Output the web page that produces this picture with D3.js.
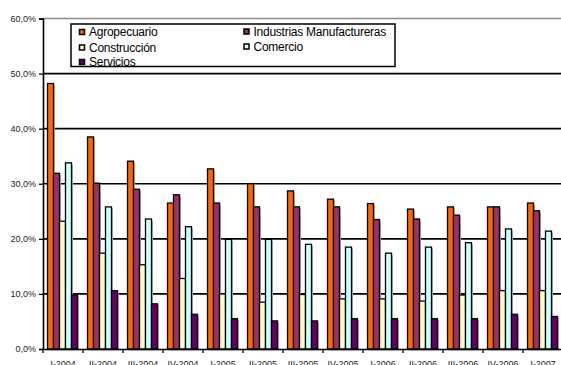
<!DOCTYPE html>
<html>
<head>
<meta charset="utf-8">
<script src="https://cdn.jsdelivr.net/npm/d3@7"></script>
<style>
  body { margin: 0; background: #fff; }
  text { font-family: "Liberation Sans", Arial, sans-serif; }
</style>
</head>
<body>
<svg class="viz"></svg>
<script>
var width = 561,
  height = 365;

var categories = ["I-2004", "II-2004", "III-2004", "IV-2004", "I-2005", "II-2005", "III-2005",
  "IV-2005", "I-2006", "II-2006", "III-2006", "IV-2006", "I-2007"];

var series_names = ["Agropecuario", "Industrias Manufactureras", "Construcción", "Comercio", "Servicios"];

var agropecuario = [48.2, 38.5, 34.1, 26.5, 32.7, 30.0, 28.7, 27.2, 26.4, 25.4, 25.8, 25.8, 26.5];
var industrias = [31.9, 30.1, 29.0, 28.0, 26.5, 25.8, 25.8, 25.8, 23.5, 23.6, 24.3, 25.8, 25.1];
var construccion = [23.2, 17.4, 15.3, 12.8, 10.0, 8.5, 9.9, 9.1, 9.1, 8.7, 9.8, 10.6, 10.6];
var comercio = [33.8, 25.8, 23.6, 22.2, 19.9, 19.9, 19.0, 18.5, 17.4, 18.5, 19.3, 21.8, 21.4];
var servicios = [9.8, 10.6, 8.2, 6.3, 5.5, 5.1, 5.1, 5.5, 5.5, 5.5, 5.5, 6.3, 5.9];

var y_ticks = [0, 10, 20, 30, 40, 50, 60];

var colors = ["#ff6600", "#993366", "#ffffcc", "#ccffff", "#660066"];

var all_values = [agropecuario, industrias, construccion, comercio, servicios];

var viz = d3.select(".viz")
  .attr("width", width)
  .attr("height", height);

// plot area (runs a little past the right edge, like the original)
var x = d3.scaleBand().domain(categories).range([43, 563]);
var inner = d3.scaleBand().domain(series_names).range([4.5, 34.5]);
var y = d3.scaleLinear().domain([0, 60]).range([349, 18.5]);

// gridlines
viz.append("g")
  .selectAll("line")
  .data(y_ticks.filter(d => d > 0))
  .enter()
  .append("line")
  .attr("x1", 43)
  .attr("x2", width)
  .attr("y1", d => y(d))
  .attr("y2", d => y(d))
  .attr("stroke", d => d == 60 ? "#8c8c8c" : "#000")
  .attr("stroke-width", 1.6);

// bars, one group per category
var rows = categories.map(function(c, i) {
  return series_names.map(function(s, j) {
    return { cat: c, name: s, value: all_values[j][i], color: colors[j] };
  });
});

var groups = viz.append("g")
  .selectAll("g")
  .data(rows)
  .enter()
  .append("g")
  .attr("transform", (d, i) => "translate(" + x(categories[i]) + ",0)");

// drop shadow
groups.selectAll("rect.shadow")
  .data(d => d)
  .enter()
  .append("rect")
  .attr("class", "shadow")
  .attr("x", d => inner(d.name) + 1.5)
  .attr("y", d => y(d.value) + 1.5)
  .attr("width", inner.bandwidth())
  .attr("height", d => y(0) - y(d.value))
  .attr("fill", "#b0b0b0");

groups.selectAll("rect.bar")
  .data(d => d)
  .enter()
  .append("rect")
  .attr("class", "bar")
  .attr("x", d => inner(d.name))
  .attr("y", d => y(d.value))
  .attr("width", inner.bandwidth())
  .attr("height", d => y(0) - y(d.value))
  .attr("fill", d => d.color)
  .attr("stroke", "#000")
  .attr("stroke-width", 1.3);

// axes
var yAxis = viz.append("g")
  .attr("transform", "translate(43,0)")
  .call(d3.axisLeft(y).tickValues(y_ticks).tickSize(4).tickPadding(3)
    .tickFormat(d => d3.format(".1f")(d).replace(".", ",") + "%"));

var xAxis = viz.append("g")
  .attr("transform", "translate(0," + y(0) + ")")
  .call(d3.axisBottom(x).tickSize(0).tickPadding(12));

// category boundary ticks
viz.append("g")
  .selectAll("line")
  .data(categories)
  .enter()
  .append("line")
  .attr("x1", d => x(d))
  .attr("x2", d => x(d))
  .attr("y1", y(0))
  .attr("y2", y(0) + 4)
  .attr("stroke", "#000")
  .attr("stroke-width", 1.3);

[yAxis, xAxis].forEach(function(a) {
  a.select(".domain").attr("stroke", "#000").attr("stroke-width", 1.6);
  a.selectAll(".tick line").attr("stroke", "#000").attr("stroke-width", 1.3);
  a.selectAll("text")
    .attr("fill", "#222")
    .style("font-size", "9px")
    .style("font-family", "'Liberation Sans', Arial, sans-serif");
});
xAxis.selectAll("text").attr("dy", "1em").attr("y", 9);

// legend
var legend = viz.append("g");
legend.append("rect")
  .attr("x", 71)
  .attr("y", 24)
  .attr("width", 324)
  .attr("height", 42.5)
  .attr("fill", "#fff")
  .attr("stroke", "#000")
  .attr("stroke-width", 1.5);

var legend_pos = [
  [79, 32], [243.5, 31.5],
  [79, 47.5], [243.5, 46.5],
  [79, 62]
];

var items = legend.selectAll("g.item")
  .data(series_names)
  .enter()
  .append("g")
  .attr("class", "item")
  .attr("transform", (d, i) => "translate(" + legend_pos[i][0] + "," + legend_pos[i][1] + ")");

items.append("rect")
  .attr("x", 0.5)
  .attr("y", -2.5)
  .attr("width", 5)
  .attr("height", 5)
  .attr("fill", (d, i) => colors[i])
  .attr("stroke", "#000")
  .attr("stroke-width", 1.5);

items.append("text")
  .attr("x", 10)
  .attr("y", 0)
  .attr("dy", "0.36em")
  .attr("fill", "#000")
  .style("font-size", "12px")
  .style("letter-spacing", "-0.25px")
  .text(d => d);
</script>
</body>
</html>
